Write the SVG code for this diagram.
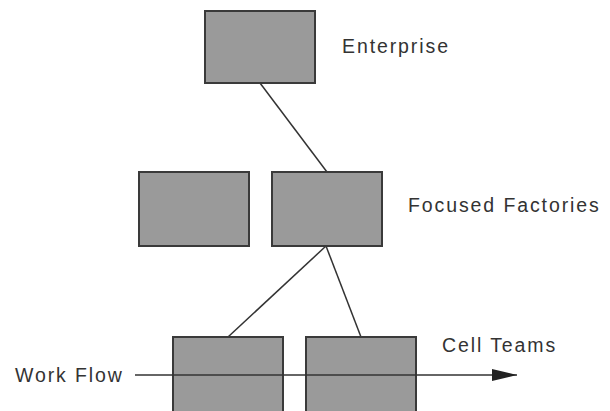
<svg xmlns="http://www.w3.org/2000/svg" width="610" height="411" viewBox="0 0 610 411">
<defs>
<style>
.box{fill:#9a9a9a;stroke:#3a3a3a;stroke-width:2}
.lbl{font-family:"Liberation Sans",Arial,sans-serif;font-size:19.5px;letter-spacing:1.9px;fill:#333}
.ln{stroke:#333;stroke-width:1.5;fill:none}
</style>
<marker id="ah" viewBox="0 0 10 10" refX="10" refY="5" markerWidth="25" markerHeight="12" markerUnits="userSpaceOnUse" orient="auto" preserveAspectRatio="none">
<path d="M0,0 L10,5 L0,10 Z" fill="#222"/>
</marker>
</defs>
<rect width="610" height="411" fill="#fff"/>
<g id="connectors">
<line class="ln" x1="260" y1="83" x2="327" y2="172"/>
<line class="ln" x1="326" y1="246" x2="228" y2="337"/>
<line class="ln" x1="326" y1="246" x2="361" y2="337"/>
</g>
<g id="enterprise"><rect class="box" x="205" y="11" width="110" height="72"/><text class="lbl" x="342" y="53">Enterprise</text></g>
<g id="factory1"><rect class="box" x="139" y="172" width="110" height="74"/></g>
<g id="factory2"><rect class="box" x="272" y="172" width="110" height="74"/><text class="lbl" x="408" y="212">Focused Factories</text></g>
<g id="cell1"><rect class="box" x="173" y="337" width="110" height="80"/></g>
<g id="cell2"><rect class="box" x="306" y="337" width="110" height="80"/><text class="lbl" x="442" y="352">Cell Teams</text></g>
<g id="workflow">
<text class="lbl" x="15" y="382">Work Flow</text>
<line class="ln" x1="135" y1="375" x2="517" y2="375" marker-end="url(#ah)"/>
</g>
</svg>
